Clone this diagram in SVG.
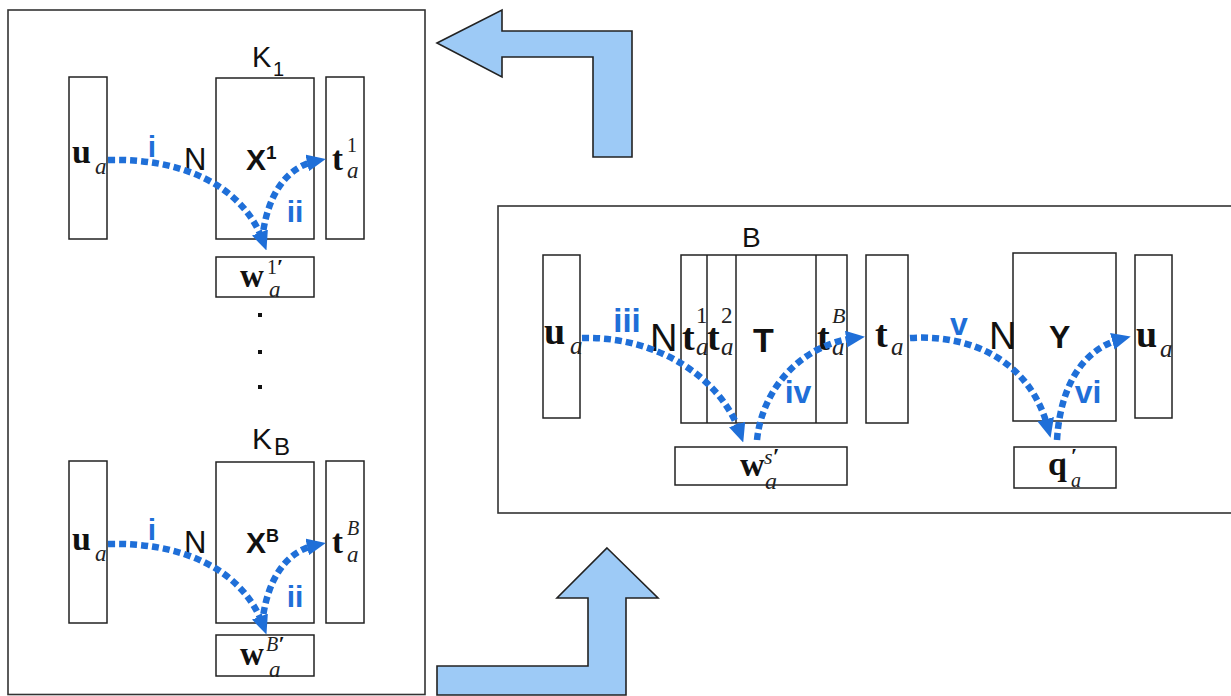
<svg xmlns="http://www.w3.org/2000/svg" width="1231" height="696" viewBox="0 0 1231 696">
  <style>
    .panel { fill: none; stroke: #333; stroke-width: 1.6; }
    .box { fill: none; stroke: #222; stroke-width: 1.5; }
    .turn { fill: #9dcaf6; stroke: #222; stroke-width: 1.6; stroke-linejoin: miter; }
    .flow { fill: none; stroke: #1f6fd8; stroke-width: 6.5; stroke-dasharray: 7 4; }
    .vec { font-family: "Liberation Serif", serif; font-weight: bold; fill: #111; }
    .sub { font-family: "Liberation Serif", serif; font-style: italic; fill: #222; }
    .sup { font-family: "Liberation Serif", serif; fill: #222; }
    .prime { font-family: "Liberation Serif", serif; font-weight: bold; fill: #111; }
    .sans { font-family: "Liberation Sans", Arial, sans-serif; fill: #111; }
    .mat { font-family: "Liberation Sans", Arial, sans-serif; font-weight: bold; fill: #111; }
    .step { font-family: "Liberation Sans", Arial, sans-serif; font-weight: bold; fill: #1f6fd8; text-anchor: middle; }
    .dot { fill: #111; }
  </style>
  <defs>
    <marker id="head" viewBox="0 0 19 17" refX="9" refY="8.5" markerWidth="19" markerHeight="17" markerUnits="userSpaceOnUse" orient="auto">
      <path d="M0,0 L19,8.5 L0,17 Z" fill="#1f6fd8"/>
    </marker>
  </defs>

  <rect id="white" x="0" y="0" width="1231" height="696" fill="#fff"/>

  <!-- left panel: one block per K -->
  <g id="left-panel">
    <rect class="panel" x="8" y="10" width="417" height="684.5"/>
  </g>

  <!-- block K1 -->
  <g id="k1-label">
    <text class="sans" x="252" y="67" font-size="29">K</text>
    <text class="sans" x="273" y="76" font-size="20">1</text>
  </g>
  <g id="k1-u">
    <rect class="box" x="69" y="77" width="38" height="162"/>
    <text class="vec" x="72" y="163" font-size="34">u</text>
    <text class="sub" x="95" y="174" font-size="23">a</text>
  </g>
  <g id="k1-x">
    <rect class="box" x="216" y="78" width="98" height="161"/>
    <text class="sans" x="184" y="170" font-size="31">N</text>
    <text class="mat" x="246" y="170" font-size="30">X<tspan font-size="19" dy="-11">1</tspan></text>
  </g>
  <g id="k1-t">
    <rect class="box" x="326" y="77" width="38" height="162"/>
    <text class="vec" x="332" y="170" font-size="33">t</text>
    <text class="sup" x="347" y="152" font-size="20">1</text>
    <text class="sub" x="347" y="178" font-size="23">a</text>
  </g>
  <g id="k1-w">
    <rect class="box" x="216" y="257" width="98" height="40"/>
    <text class="vec" x="240" y="287" font-size="33">w</text>
    <text class="sup" x="267" y="274" font-size="20">1<tspan class="prime" font-size="22">′</tspan></text>
    <text class="sub" x="269" y="297" font-size="23">a</text>
  </g>

  <!-- ellipsis between blocks -->
  <g id="ellipsis">
    <rect class="dot" x="258" y="313" width="4" height="4"/>
    <rect class="dot" x="258" y="350" width="4" height="4"/>
    <rect class="dot" x="258" y="385" width="4" height="4"/>
  </g>

  <!-- block KB -->
  <g id="kb-label">
    <text class="sans" x="252" y="449" font-size="30">K</text>
    <text class="sans" x="274" y="455" font-size="24">B</text>
  </g>
  <g id="kb-u">
    <rect class="box" x="69" y="461" width="38" height="162"/>
    <text class="vec" x="72" y="550" font-size="34">u</text>
    <text class="sub" x="95" y="561" font-size="23">a</text>
  </g>
  <g id="kb-x">
    <rect class="box" x="216" y="462" width="98" height="161"/>
    <text class="sans" x="184" y="553" font-size="31">N</text>
    <text class="mat" x="246" y="553" font-size="30">X<tspan font-size="18" dy="-11">B</tspan></text>
  </g>
  <g id="kb-t">
    <rect class="box" x="326" y="461" width="38" height="162"/>
    <text class="vec" x="332" y="553" font-size="33">t</text>
    <text class="sub" x="347" y="535" font-size="20">B</text>
    <text class="sub" x="347" y="562" font-size="23">a</text>
  </g>
  <g id="kb-w">
    <rect class="box" x="216" y="635" width="98" height="41"/>
    <text class="vec" x="240" y="665" font-size="33">w</text>
    <text class="sub" x="266" y="651" font-size="20">B<tspan class="prime" font-size="22">′</tspan></text>
    <text class="sub" x="269" y="677" font-size="23">a</text>
  </g>

  <!-- turning arrows between panels -->
  <g id="arrow-back">
    <polygon class="turn" points="437,43 502,10 502,31 632,31 632,157 593,157 593,57 502,57 502,77"/>
  </g>
  <g id="arrow-up">
    <polygon class="turn" points="607,548 658,598 626,598 626,695 437,695 437,666 588,666 588,598 557,598"/>
  </g>

  <!-- right panel: super level -->
  <g id="right-panel">
    <rect class="panel" x="498" y="206" width="760" height="307"/>
  </g>
  <g id="s-u">
    <rect class="box" x="543" y="255" width="37" height="163"/>
    <text class="vec" x="544" y="344" font-size="38">u</text>
    <text class="sub" x="570" y="354" font-size="25">a</text>
  </g>
  <g id="s-t-block">
    <text class="sans" x="742" y="247" font-size="28">B</text>
    <rect class="box" x="681" y="255" width="166" height="168"/>
    <line class="box" x1="707" y1="255" x2="707" y2="423"/>
    <line class="box" x1="736" y1="255" x2="736" y2="423"/>
    <line class="box" x1="816" y1="255" x2="816" y2="423"/>
    <text class="sans" x="650" y="351" font-size="38">N</text>
    <text class="vec" x="682" y="350" font-size="38">t</text>
    <text class="sup" x="696" y="323" font-size="23">1</text>
    <text class="sub" x="696" y="355" font-size="25">a</text>
    <text class="vec" x="707" y="350" font-size="38">t</text>
    <text class="sup" x="721" y="323" font-size="23">2</text>
    <text class="sub" x="721" y="355" font-size="25">a</text>
    <text class="mat" x="753" y="352" font-size="34">T</text>
    <text class="vec" x="817" y="350" font-size="38">t</text>
    <text class="sub" x="832" y="323" font-size="22">B</text>
    <text class="sub" x="832" y="355" font-size="25">a</text>
  </g>
  <g id="s-w">
    <rect class="box" x="675" y="447" width="172" height="38"/>
    <text class="vec" x="740" y="476" font-size="34">w</text>
    <text class="sub" x="764" y="464" font-size="22">s<tspan class="prime" font-size="24">′</tspan></text>
    <text class="sub" x="765" y="489" font-size="24">a</text>
  </g>
  <g id="s-t">
    <rect class="box" x="866" y="255" width="42" height="168"/>
    <text class="vec" x="875" y="347" font-size="38">t</text>
    <text class="sub" x="891" y="355" font-size="25">a</text>
  </g>
  <g id="s-y">
    <rect class="box" x="1013" y="253" width="103" height="168"/>
    <text class="sans" x="989" y="349" font-size="38">N</text>
    <text class="mat" x="1049" y="348" font-size="32">Y</text>
  </g>
  <g id="s-u2">
    <rect class="box" x="1135" y="255" width="37" height="163"/>
    <text class="vec" x="1136" y="347" font-size="38">u</text>
    <text class="sub" x="1160" y="357" font-size="25">a</text>
  </g>
  <g id="s-q">
    <rect class="box" x="1014" y="447" width="102" height="41"/>
    <text class="vec" x="1048" y="475" font-size="34">q</text>
    <text class="prime" x="1071" y="463" font-size="22">′</text>
    <text class="sub" x="1071" y="487" font-size="20">a</text>
  </g>

  <!-- weight / score steps -->
  <g id="connectors">
    <path class="flow" d="M108,160 C180,158 242,184 263,241" marker-end="url(#head)"/>
    <path class="flow" d="M262,241 C266,200 283,168 316,161" marker-end="url(#head)"/>
    <path class="flow" d="M108,544 C180,542 242,568 263,625" marker-end="url(#head)"/>
    <path class="flow" d="M262,625 C266,584 283,552 316,545" marker-end="url(#head)"/>
    <path class="flow" d="M582,338 C660,336 722,380 740,433" marker-end="url(#head)"/>
    <path class="flow" d="M757,440 C762,390 800,345 855,338" marker-end="url(#head)"/>
    <path class="flow" d="M910,338 C970,334 1030,360 1048,428" marker-end="url(#head)"/>
    <path class="flow" d="M1057,440 C1060,390 1080,350 1121,339" marker-end="url(#head)"/>
  </g>
  <g id="step-labels">
    <text class="step" x="152" y="157" font-size="30">i</text>
    <text class="step" x="295" y="222" font-size="30">ii</text>
    <text class="step" x="152" y="540" font-size="30">i</text>
    <text class="step" x="295" y="607" font-size="30">ii</text>
    <text class="step" x="627" y="332" font-size="33">iii</text>
    <text class="step" x="798" y="403" font-size="32">iv</text>
    <text class="step" x="959" y="335" font-size="32">v</text>
    <text class="step" x="1088" y="403" font-size="32">vi</text>
  </g>
</svg>
